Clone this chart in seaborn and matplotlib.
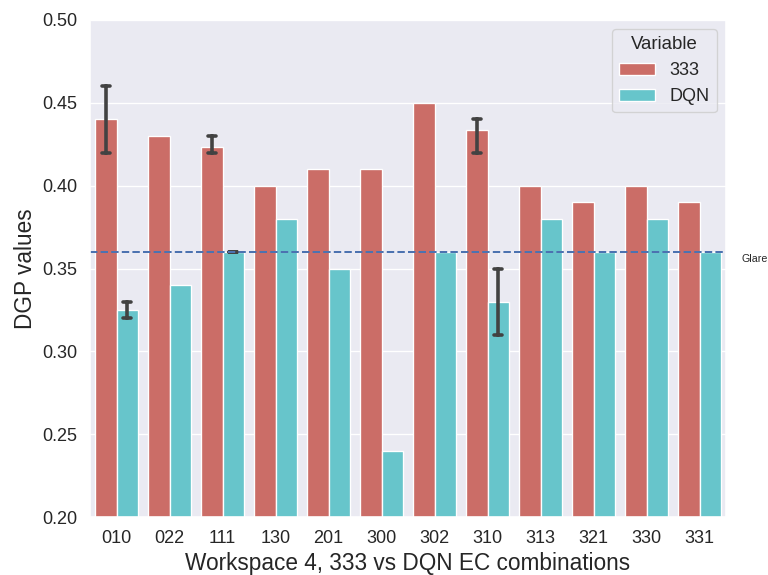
import matplotlib
matplotlib.use("Agg")
import matplotlib.pyplot as plt
import seaborn as sns
import pandas as pd

combos = ['010', '022', '111', '130', '201', '300', '302', '310', '313', '321', '330', '331']
# observations per combination (some combos were run several times)
obs_333 = [[0.42, 0.46], [0.43], [0.42, 0.42, 0.43], [0.40], [0.41], [0.41],
           [0.45], [0.42, 0.44, 0.44], [0.40], [0.39], [0.40], [0.39]]
obs_dqn = [[0.32, 0.33], [0.34], [0.36, 0.36], [0.38], [0.35], [0.24],
           [0.36], [0.31, 0.35], [0.38], [0.36], [0.38], [0.36]]
variables = ['333', 'DQN']
glare = 0.36

rows = []
for c, a, b in zip(combos, obs_333, obs_dqn):
    for v in a:
        rows.append((c, variables[0], v))
    for v in b:
        rows.append((c, variables[1], v))
df = pd.DataFrame(rows, columns=['combo', 'Variable', 'DGP'])

sns.set_theme(style='darkgrid')
plt.rcParams['font.family'] = ['Liberation Sans', 'DejaVu Sans']

fig = plt.figure(figsize=(768 / 96, 575 / 96), dpi=96)
ax = fig.add_axes([90 / 768, 1 - 517 / 575, 636 / 768, 497 / 575])

sns.barplot(data=df, x='combo', y='DGP', hue='Variable', order=combos,
            hue_order=variables, palette='hls', errorbar=('pi', 100),
            capsize=0.3, err_kws={'linewidth': 2.7, 'color': '.26'}, ax=ax)

ax.axhline(glare, color='#4C72B0', linestyle='--', linewidth=1.5)
ax.text(1.024, glare - 0.001, 'Glare', transform=ax.get_yaxis_transform(),
        fontsize=8, va='top', color='.15')

ax.set_ylim(0.2, 0.5)
ax.set_yticks([0.20, 0.25, 0.30, 0.35, 0.40, 0.45, 0.50])
ax.set_yticklabels([f'{t:.2f}' for t in ax.get_yticks()])
ax.tick_params(labelsize=13.5)
ax.set_xlabel('Workspace 4, 333 vs DQN EC combinations', fontsize=17)
ax.set_ylabel('DGP values', fontsize=17)
ax.legend(title='Variable', loc='upper right', fontsize=13.5, title_fontsize=14)

fig.savefig('out.png', dpi=96)
